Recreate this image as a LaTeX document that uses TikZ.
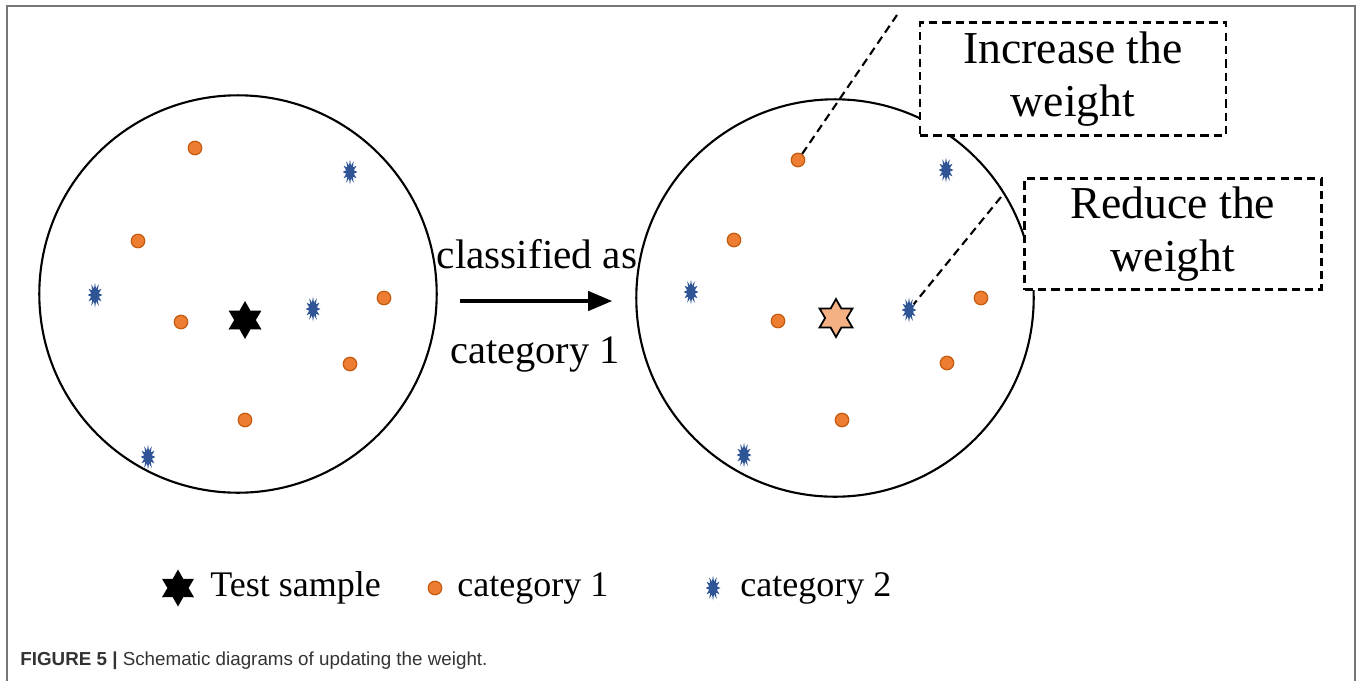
\documentclass[tikz,border=0pt]{standalone}
\usepackage{fontspec}
\setmainfont{Liberation Serif}
\newfontfamily\capfont{Liberation Sans}
\usetikzlibrary{arrows}
\usetikzlibrary{shapes.geometric}

\definecolor{dotorange}{HTML}{ED7D31}
\definecolor{dotedge}{HTML}{C55A11}
\definecolor{burstblue}{HTML}{2F5597}
\definecolor{peach}{HTML}{F4B183}
\definecolor{framegray}{HTML}{777777}
\definecolor{captext}{HTML}{333333}

\begin{document}
\begin{tikzpicture}[x=0.02cm,y=-0.02cm]
	\tikzstyle{pool}=[circle,draw,line width=1.2pt,minimum size=7.95cm,inner sep=0pt]
	\tikzstyle{cat1}=[circle,draw=dotedge,fill=dotorange,line width=0.7pt,minimum size=0.27cm,inner sep=0pt]
	\tikzstyle{cat2}=[star,star points=12,star point ratio=1.9,fill=burstblue,minimum size=0.5cm,inner sep=0pt,xscale=0.6]
	\tikzstyle{test}=[star,star points=6,star point ratio=1.75,fill=black,minimum size=0.76cm,inner sep=0pt]
	\tikzstyle{note}=[draw,dash pattern=on 4.7pt off 2.9pt,line width=1.2pt,fill=white,align=center,font=\fontsize{26}{30}\selectfont,inner sep=0pt]
	\tikzstyle{pointer}=[dash pattern=on 4.7pt off 2.9pt,line width=1.2pt]
	\tikzstyle{legend}=[anchor=west,font=\fontsize{20.5}{24}\selectfont,inner sep=0pt]
	\useasboundingbox (0,0) rectangle (1360,681);
	\draw[framegray,line width=1.2pt] (7,681) -- (7,6) -- (1355,6) -- (1355,681);
	% before
	\node[pool] (L) at (238,294){};
	\node[cat1] (o1a) at (195,148){};
	\node[cat1] (o2a) at (138,241){};
	\node[cat1] (o3a) at (384,298){};
	\node[cat1] (o4a) at (181,322){};
	\node[cat1] (o5a) at (350,364){};
	\node[cat1] (o6a) at (245,420){};
	\node[cat2] (b1a) at (350,172){};
	\node[cat2] (b2a) at (95,295){};
	\node[cat2] (b3a) at (313,309){};
	\node[cat2] (b4a) at (148,457){};
	\node[test] (T) at (245,320){};
	\node[font=\fontsize{23.5}{28}\selectfont] (cls) at (537,254){classified as};
	\node[font=\fontsize{23}{28}\selectfont] (cat) at (535,355){category 1};
	\coordinate (arrS) at (460,301);
	\coordinate (arrE) at (612,301);
	\draw[line width=2.2pt,-triangle 45] (arrS) -- (arrE);
	% after
	\node[pool] (R) at (835,298){};
	\node[cat1] (o1b) at (798,160){};
	\node[cat1] (o2b) at (734,240){};
	\node[cat1] (o3b) at (981,298){};
	\node[cat1] (o4b) at (778,321){};
	\node[cat1] (o5b) at (947,363){};
	\node[cat1] (o6b) at (842,420){};
	\node[cat2] (b1b) at (946,170){};
	\node[cat2] (b2b) at (691,292){};
	\node[cat2] (b3b) at (909,310){};
	\node[cat2] (b4b) at (744,455){};
	\node[test,fill=peach,draw=black,line width=1pt] (Tb) at (836,318){};
	\node[note,minimum width=6.12cm,minimum height=2.26cm] (inc) at (1073,79){Increase the\\weight};
	\node[note,minimum width=5.94cm,minimum height=2.22cm] (red) at (1173,234){Reduce the\\weight};
	\coordinate (incE) at (897,15);
	\coordinate (redE) at (1001,197);
	\draw[pointer] (o1b) -- (incE);
	\draw[pointer] (redE) -- (b3b);
	% legend
	\node[test,minimum size=0.74cm] (kT) at (178,588){};
	\node[legend] (kTt) at (210,588){Test sample};
	\node[cat1] (k1) at (435,588){};
	\node[legend] (k1t) at (457,588){category 1};
	\node[cat2] (k2) at (713,588){};
	\node[legend] (k2t) at (740,588){category 2};
	\node[anchor=west,text=captext,font=\capfont\fontsize{10.7}{12}\selectfont,inner sep=0pt] (fig) at (20,661){\textbf{FIGURE 5 |} Schematic diagrams of updating the weight.};
\end{tikzpicture}
\end{document}
